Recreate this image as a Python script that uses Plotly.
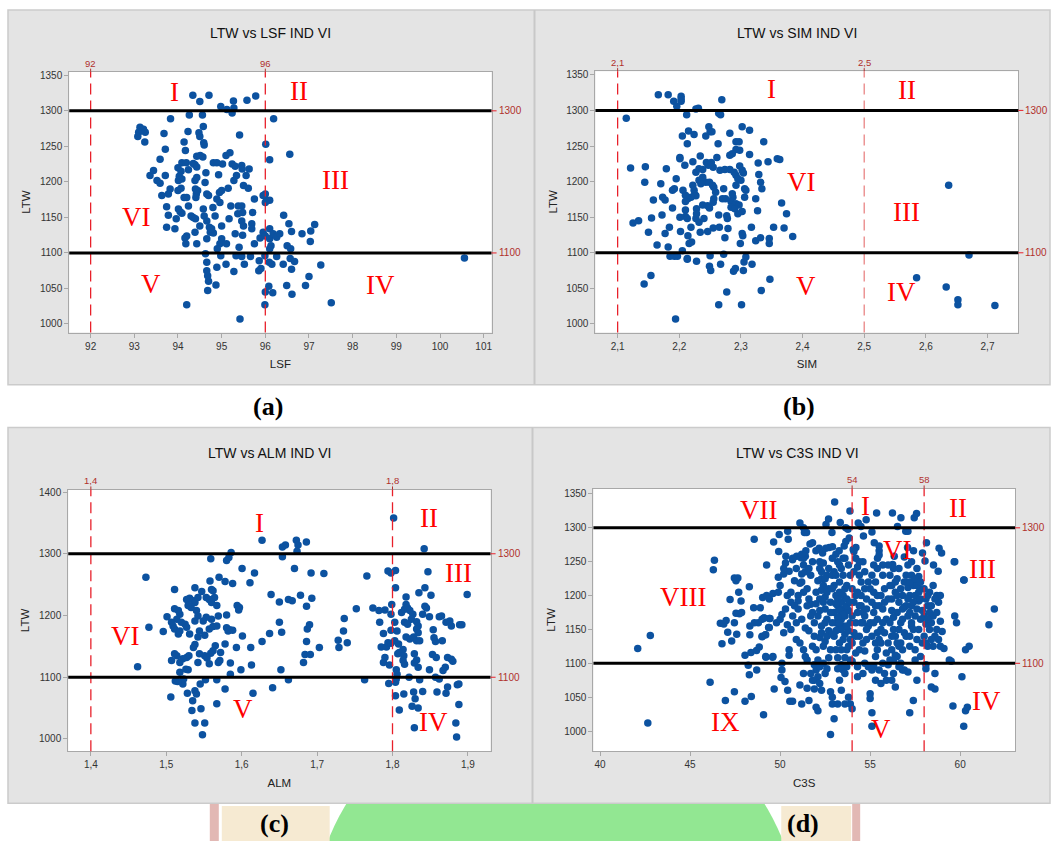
import plotly.graph_objects as go

# ---------------- Panel (a): LTW vs LSF ----------------
lsf = [94.34,94.71,94.50,95.27,95.58,95.78,94.98,95.12,95.24,95.28,94.26,94.56,93.83,96.19,93.13,93.21,93.10,93.25,93.08,93.24,
       93.68,94.23,94.48,94.50,94.58,94.59,94.60,94.14,95.41,96.01,96.56,96.10,94.17,93.71,93.59,94.09,94.19,94.43,94.51,94.57,
       94.35,94.39,94.43,94.81,94.89,95.02,95.10,95.19,95.24,95.31,95.46,95.47,95.63,95.56,95.34,95.28,94.93,94.64,94.24,94.00,
       94.07,94.03,93.71,93.36,93.44,93.52,93.59,94.01,94.09,94.39,94.43,94.62,93.82,93.78,93.63,94.00,94.07,94.14,94.20,94.24,
       94.40,94.42,94.41,94.45,94.66,94.70,94.95,95.00,94.89,94.96,95.15,95.50,95.61,95.75,96.00,96.03,96.10,95.21,95.38,95.46,
       95.48,95.37,95.71,93.74,93.78,94.01,94.05,94.09,93.96,93.74,93.93,94.30,94.35,94.40,94.58,94.60,94.66,94.80,94.85,94.50,
       94.39,94.20,94.16,94.18,94.43,94.66,94.74,94.81,94.72,94.77,95.00,95.17,95.46,95.50,95.69,95.69,95.31,95.48,95.00,94.96,
       94.90,95.11,95.40,95.75,95.88,95.95,96.00,96.10,96.10,96.18,96.26,96.33,96.13,96.10,96.42,96.54,96.60,96.84,97.04,97.13,
       97.03,96.50,96.58,96.57,96.67,96.60,97.27,97.00,96.92,96.49,96.61,96.17,96.00,96.08,95.99,97.51,100.56,95.42,94.20,94.68,
       94.87,94.70,94.68,94.66,94.66,94.63,94.89,94.98,95.10,95.28,95.33,95.46,95.52,95.66,95.86,95.85,95.90,95.99,96.09,96.15,
       96.26,96.41,95.95,96.00]
ltw_a = [1322,1322,1313,1314,1315,1321,1306,1302,1297,1304,1294,1294,1289,1289,1277,1274,1270,1270,1264,1256,
         1268,1271,1269,1264,1278,1255,1252,1256,1266,1253,1239,1231,1244,1246,1232,1227,1227,1236,1237,1235,
         1226,1224,1221,1227,1227,1225,1237,1241,1225,1222,1223,1218,1218,1209,1209,1202,1210,1213,1217,1220,
         1215,1208,1209,1209,1216,1202,1198,1202,1204,1202,1206,1199,1190,1183,1181,1188,1191,1178,1178,1166,
         1190,1183,1178,1188,1183,1181,1185,1188,1176,1171,1191,1195,1191,1176,1183,1174,1174,1166,1166,1166,
         1157,1155,1157,1165,1153,1162,1158,1156,1148,1136,1134,1152,1150,1148,1162,1152,1145,1164,1152,1138,
         1129,1124,1121,1113,1113,1120,1129,1128,1136,1134,1138,1148,1145,1138,1141,1134,1127,1125,1120,1113,
         1106,1113,1108,1113,1121,1129,1124,1134,1120,1127,1122,1127,1110,1106,1153,1141,1130,1127,1131,1140,
         1116,1110,1106,1092,1088,1077,1083,1067,1054,1054,1042,1044,1045,1053,1027,1030,1093,1007,1027,1047,
         1055,1060,1068,1075,1087,1099,1080,1096,1084,1074,1096,1095,1084,1095,1089,1075,1078,1096,1087,1084,
         1095,1084,1181,1171]

# ---------------- Panel (b): LTW vs SIM ----------------
sim = [2.166,2.182,2.191,2.196,2.203,2.203,2.203,2.269,2.114,2.212,2.227,2.231,2.264,2.267,2.248,2.250,2.243,2.253,2.215,2.205,
       2.224,2.213,2.263,2.282,2.302,2.314,2.337,2.292,2.297,2.292,2.298,2.286,2.282,2.261,2.234,2.222,2.201,2.201,2.209,2.244,
       2.247,2.252,2.255,2.266,2.274,2.282,2.289,2.292,2.298,2.302,2.304,2.314,2.328,2.344,2.359,2.363,2.329,2.332,2.334,2.324,
       2.306,2.308,2.306,2.300,2.295,2.292,2.286,2.287,2.284,2.292,2.297,2.272,2.275,2.270,2.259,2.256,2.243,2.249,2.254,2.238,
       2.232,2.235,2.227,2.232,2.238,2.222,2.224,2.225,2.227,2.219,2.214,2.210,2.206,2.210,2.189,2.192,2.195,2.179,2.170,2.144,
       2.145,2.121,2.158,2.173,2.177,2.172,2.155,2.134,2.125,2.150,2.177,2.184,2.164,2.182,2.189,2.201,2.202,2.210,2.210,2.213,
       2.214,2.219,2.220,2.216,2.227,2.228,2.228,2.232,2.234,2.238,2.246,2.249,2.256,2.255,2.240,2.246,2.264,2.255,2.265,2.274,
       2.279,2.277,2.278,2.284,2.290,2.295,2.302,2.299,2.302,2.303,2.317,2.324,2.332,2.327,2.346,2.346,2.353,2.370,2.384,2.366,
       2.374,2.205,2.185,2.192,2.197,2.213,2.213,2.228,2.250,2.249,2.251,2.267,2.272,2.288,2.291,2.304,2.308,2.305,2.318,2.347,
       2.333,2.277,2.264,2.301,2.194,2.154,2.143,2.585,2.633,2.637,2.670,2.652,2.652,2.712]
ltw_b = [1322,1322,1313,1306,1320,1316,1313,1315,1289,1294,1302,1303,1296,1294,1277,1270,1264,1270,1271,1264,
         1266,1253,1253,1268,1277,1272,1256,1256,1256,1245,1244,1239,1237,1234,1236,1228,1234,1232,1223,1227,
         1223,1227,1220,1216,1217,1217,1213,1209,1222,1216,1212,1238,1226,1228,1232,1231,1210,1199,1190,1176,
         1190,1188,1178,1202,1204,1195,1183,1178,1172,1169,1167,1190,1176,1176,1185,1192,1199,1199,1195,1206,
         1202,1197,1213,1218,1217,1195,1188,1182,1180,1178,1176,1181,1188,1172,1188,1190,1204,1218,1197,1199,
         1221,1219,1174,1178,1174,1153,1149,1145,1142,1129,1127,1136,1111,1108,1163,1150,1130,1160,1151,1148,
         1124,1136,1115,1113,1148,1162,1155,1143,1129,1167,1166,1163,1176,1171,1148,1130,1153,1135,1136,1121,
         1134,1152,1148,1164,1162,1155,1158,1113,1127,1124,1136,1117,1121,1159,1120,1113,1136,1135,1123,1170,
         1155,1103,1095,1095,1095,1092,1091,1088,1096,1081,1075,1084,1098,1074,1078,1075,1094,1087,1084,1063,
         1047,1045,1027,1027,1007,1068,1056,1065,1052,1195,1097,1034,1027,1026]

# ---------------- Panel (c): LTW vs ALM ----------------
alm = [1.8015,1.627,1.654,1.658,1.6725,1.6747,1.6858,1.6734,1.842,1.654,1.559,1.580,1.583,1.586,1.6005,1.617,1.611,1.578,1.588,1.570,
       1.558,1.473,1.670,1.692,1.709,1.766,1.794,1.798,1.804,1.847,1.804,1.843,1.835,1.851,1.818,1.899,1.511,1.538,1.547,1.560,
       1.562,1.564,1.527,1.531,1.536,1.542,1.538,1.533,1.529,1.553,1.557,1.560,1.567,1.639,1.650,1.662,1.667,1.678,1.693,1.686,
       1.594,1.597,1.596,1.580,1.569,1.560,1.553,1.549,1.540,1.542,1.538,1.518,1.516,1.511,1.514,1.501,1.520,1.525,1.527,1.507,
       1.509,1.511,1.496,1.477,1.516,1.518,1.531,1.542,1.544,1.551,1.557,1.562,1.567,1.580,1.582,1.584,1.588,1.601,1.578,1.565,
       1.562,1.559,1.572,1.551,1.554,1.544,1.538,1.536,1.530,1.527,1.514,1.511,1.507,1.522,1.518,1.542,1.557,1.569,1.571,1.593,
       1.612,1.627,1.637,1.650,1.653,1.686,1.687,1.690,1.703,1.684,1.691,1.682,1.728,1.729,1.735,1.740,1.736,1.752,1.774,1.790,
       1.782,1.799,1.798,1.783,1.788,1.803,1.806,1.798,1.785,1.792,1.794,1.798,1.803,1.790,1.788,1.796,1.807,1.808,1.809,1.814,
       1.815,1.814,1.816,1.812,1.816,1.818,1.820,1.823,1.827,1.825,1.832,1.834,1.832,1.834,1.816,1.820,1.818,1.823,1.828,1.832,
       1.836,1.840,1.843,1.845,1.849,1.854,1.855,1.857,1.853,1.858,1.862,1.865,1.871,1.876,1.878,1.866,1.873,1.878,1.880,1.870,
       1.867,1.829,1.832,1.829,1.834,1.849,1.857,1.862,1.836,1.822,1.805,1.806,1.805,1.804,1.795,1.804,1.815,1.809,1.828,1.840,
       1.826,1.830,1.834,1.829,1.859,1.871,1.873,1.886,1.888,1.888,1.884,1.885,1.889,1.892,1.763,1.662,1.652,1.641,1.615,1.613,
       1.599,1.585,1.585,1.567,1.578,1.567,1.552,1.545,1.546,1.551,1.548,1.538,1.534,1.535,1.538,1.540,1.528,1.522,1.523,1.512,
       1.515,1.518,1.526,1.529,1.506,1.462]
ltw_c = [1358,1322,1311,1314,1322,1314,1319,1304,1308,1295,1292,1289,1294,1302,1276,1269,1253,1255,1252,1262,
         1256,1262,1276,1269,1268,1264,1272,1269,1273,1271,1245,1245,1237,1233,1230,1234,1242,1245,1239,1242,
         1240,1229,1226,1228,1224,1229,1221,1213,1216,1229,1226,1221,1216,1234,1222,1226,1224,1233,1228,1215,
         1216,1213,1209,1201,1199,1194,1197,1191,1208,1199,1191,1202,1208,1211,1194,1198,1189,1186,1181,1189,
         1183,1178,1174,1181,1170,1175,1170,1165,1175,1168,1178,1182,1183,1180,1175,1177,1176,1167,1154,1151,
         1143,1139,1140,1135,1131,1138,1153,1148,1135,1132,1135,1138,1127,1130,1124,1124,1122,1124,1127,1148,
         1148,1158,1171,1189,1173,1158,1178,1185,1148,1137,1137,1124,1160,1148,1175,1156,1195,1211,1212,1209,
         1208,1218,1202,1189,1171,1189,1175,1176,1149,1149,1156,1155,1159,1132,1124,1120,1138,1154,1140,1145,
         1135,1127,1121,1205,1210,1218,1212,1208,1202,1194,1190,1183,1178,1172,1189,1186,1165,1162,1165,1159,
         1159,1202,1215,1212,1198,1177,1164,1158,1137,1132,1198,1199,1189,1191,1183,1159,1132,1129,1126,1116,
         1111,1138,1128,1123,1116,1112,1100,1097,1096,1100,1112,1105,1097,1092,1090,1070,1073,1047,1076,1077,
         1053,1065,1050,1018,1076,1074,1084,1088,1089,1056,1026,1003,1185,1185,1096,1096,1112,1083,1074,1120,
         1112,1105,1123,1096,1081,1057,1096,1089,1049,1026,1007,1026,1046,1062,1078,1073,1074,1089,1097,1094,
         1093,1108,1113,1112,1068,1117]

# ---------------- Panel (d): LTW vs C3S ----------------
c3s = [42.09,42.79,42.65,46.11,46.35,46.29,46.96,47.46,48.05,48.40,49.08,48.56,48.70,48.29,48.23,48.05,47.46,47.55,47.65,47.70,
       47.22,47.83,48.29,46.68,46.87,47.00,46.77,47.09,47.31,47.59,47.46,47.55,47.74,47.86,48.32,48.32,48.53,48.90,48.79,49.03,
       49.25,49.40,49.25,48.57,48.38,48.69,48.84,49.00,49.18,49.36,49.44,49.00,49.12,49.21,49.58,49.67,50.10,50.05,50.27,50.42,
       50.54,50.69,
       51.10,51.30,51.35,51.47,52.69,52.55,52.88,53.03,53.34,53.88,53.65,53.77,54.34,54.49,54.78,54.63,55.10,55.36,56.24,56.71,
       56.52,56.98,57.10,57.45,57.58,50.42,49.95,49.64,49.92,50.45,
       50.32,50.69,50.92,51.16,51.43,51.66,51.80,51.99,52.17,52.36,52.54,52.73,52.91,53.10,53.28,53.56,53.65,53.84,54.06,54.21,
       53.50,55.23,55.50,55.50,55.41,56.34,56.25,56.90,57.08,57.41,57.91,58.05,58.13,58.52,58.83,58.97,59.67,60.22,58.78,
       49.2,49.6,49.0,49.2,49.4,49.4,49.1,49.6,49.9,49.8,50.0,50.1,49.9,50.2,50.0,50.3,50.4,50.2,50.5,50.6,50.5,50.8,50.7,50.9,50.3,50.1,50.5,
       51.0,51.1,51.2,51.3,51.0,51.2,51.4,51.1,51.3,51.5,51.3,51.1,51.5,51.2,51.6,51.5,51.6,51.7,51.8,51.9,51.9,51.8,51.4,51.7,51.0,51.3,51.2,
       52.0,52.1,52.2,52.0,52.1,52.3,52.2,52.0,52.1,52.0,52.1,51.9,52.2,52.3,52.0,52.1,52.4,52.5,52.5,52.6,52.4,52.7,52.8,52.6,52.7,52.5,52.8,
       52.4,52.6,52.8,52.9,52.9,53.0,52.8,52.3,52.9,52.2,
       53.0,53.1,53.2,53.0,53.1,53.2,53.0,53.3,53.1,53.2,53.3,53.4,53.2,53.5,53.4,53.5,53.6,53.4,53.5,53.6,53.4,53.5,53.6,53.3,53.5,53.7,53.8,
       53.7,53.8,53.9,53.8,53.9,53.7,53.9,53.8,53.9,53.2,53.0,53.3,53.6,53.2,
       54.0,54.1,54.0,54.2,54.1,54.0,54.2,54.0,54.3,54.4,54.5,54.3,54.4,54.6,54.5,54.4,54.6,54.2,54.7,54.8,54.7,54.9,54.8,54.7,54.9,54.1,54.3,
       54.0,54.6,54.9,54.5,
       55.0,55.1,55.2,55.0,55.1,55.3,55.2,55.1,55.3,55.0,55.0,55.1,55.1,55.4,55.5,55.4,55.6,55.5,55.4,55.6,55.5,55.7,55.8,55.7,55.9,55.8,55.6,
       55.9,55.8,55.9,55.3,55.2,
       56.0,56.1,56.2,56.0,56.2,56.1,56.3,56.0,56.2,56.1,56.0,56.3,56.2,56.4,56.5,56.4,56.6,56.5,56.7,56.4,56.6,56.5,56.7,56.8,56.9,56.8,56.9,
       56.8,56.9,56.7,56.9,56.3,56.6,
       57.0,57.1,57.2,57.0,57.1,57.3,57.0,57.2,57.1,57.2,57.4,57.3,57.4,57.5,57.3,57.5,57.4,57.6,57.5,57.6,57.7,57.8,57.7,57.9,57.8,57.9,57.6,57.8,
       58.0,58.1,58.2,58.0,58.1,58.3,58.0,58.2,58.1,58.1,58.4,58.5,58.4,58.6,58.5,58.6,58.4,58.6,58.7,58.8,58.9,58.7,58.9,58.7,58.8,58.9,59.0,
       59.1,58.3,58.5,
       59.4,59.5,59.7,59.8,59.6,60.1,60.2,60.3,60.4,60.3,60.5,61.6,61.9,60.2,59.7,
       50.2,50.6,50.8,50.4,50.9,50.7,50.6,50.9,
       51.2,51.4,51.6,51.3,51.5,51.7,51.6,51.8,51.4,51.9,51.7,51.8,51.9,
       52.2,52.3,52.5,52.7,52.9,52.3,52.6,52.9,52.4,52.8,52.2,52.5,52.9,52.3,52.6,52.9,52.4,52.7,52.2,52.5,
       53.1,53.3,53.6,53.9,53.1,53.3,53.5,53.7,53.9,53.2,53.4,53.7,53.1,53.3,53.5,53.8,53.4,53.6,53.2,53.7,53.4,53.6,
       54.1,54.4,54.7,54.2,54.5,54.8,54.3,54.6,54.2,54.8,54.4,54.7,54.3,54.6,
       55.1,55.4,55.7,55.2,55.6,55.3,55.8,55.2,55.7,55.4,55.3,55.7,55.5,
       56.1,56.4,56.7,56.2,56.5,56.8,56.3,56.6,56.2,56.5,56.8,56.4,56.6,56.3,
       57.1,57.3,57.6,57.2,57.5,57.8,57.1,57.4,57.7,57.2,57.6,57.3,57.7,57.2,57.5,57.8,
       58.2,58.3,58.1,58.4,58.6,58.2]
ltw_d = [1122,1141,1012,1072,1252,1238,1045,1058,1044,1051,1024,1283,1090,1083,1097,1112,1226,1222,1226,1205,
         1194,1192,1213,1159,1158,1163,1129,1146,1133,1143,1160,1174,1173,1175,1155,1142,1182,1182,1160,1197,
         1200,1195,1245,1160,1116,1119,1124,1139,1142,1153,1166,1165,1167,1109,1109,1062,1090,1079,1073,1060,
         1044,1044,
         1307,1300,1293,1293,1313,1305,1293,1338,1308,1325,1300,1298,1307,1302,1312,1288,1294,1322,1322,1315,
         1302,1295,1295,1315,1321,1295,1290,1279,1265,1283,
         1258,1253,1258,1256,1266,1276,1278,1266,1270,1263,1270,1271,1272,1261,1266,1273,1280,1285,1268,1271,
         1255,1278,1273,1266,1255,1258,1246,1257,1271,1266,1263,1251,1278,1245,1270,1263,1250,1223,1236,
         1110,1110,1140,1142,1153,1166,1167,1203,1205,1160,1165,1172,1227,1232,1215,1180,1157,1145,1120,1190,1236,1222,1170,1160,1248,1100,1112,
         1200,1218,1232,1245,1180,1165,1152,1130,1120,1105,1085,1068,1063,1040,1045,1210,1195,1230,1175,1160,1140,1250,1258,1187,1192,1255,1261,
         1205,1222,1240,1188,1170,1155,1138,1120,1105,1090,1080,1075,1070,1060,1035,1030,1215,1198,1180,1230,1248,1210,1190,1165,1148,1132,1120,
         1100,1092,1058,1050,1040,1018,995,1225,1255,1195,
         1215,1200,1185,1175,1160,1150,1140,1130,1120,1108,1220,1240,1250,1200,1190,1180,1170,1165,1155,1143,1098,1090,1085,1075,1230,1215,1245,
         1195,1178,1160,1148,1135,1120,1105,1050,1040,1040,1235,1205,1210,1195,
         1210,1190,1170,1160,1145,1130,1115,1103,1095,1230,1220,1205,1185,1175,1160,1140,1130,1255,1210,1195,1170,1155,1135,1100,1095,1265,1242,
         1033,1250,1220,1185,
         1210,1190,1175,1160,1140,1130,1095,1090,1075,1055,1048,1027,1007,1200,1185,1165,1150,1135,1120,1070,1260,1230,1210,1180,1165,1145,1130,
         1115,1085,1075,1220,1245,
         1245,1230,1215,1195,1178,1160,1150,1130,1120,1105,1098,1085,1075,1065,1225,1205,1190,1175,1160,1140,1125,1110,1100,1090,1220,1200,1183,
         1165,1145,1130,1090,1240,1240,
         1230,1212,1200,1185,1170,1155,1140,1125,1087,1027,1045,1230,1215,1200,1185,1170,1150,1135,1120,1075,1228,1210,1192,1178,1165,1130,1215,1195,
         1210,1195,1185,1170,1158,1150,1140,1125,1098,1092,1185,1170,1160,1140,1125,1085,1065,1062,1200,1190,1200,1175,1162,1150,1135,1125,1147,
         1122,1205,1215,
         1105,1103,1170,1160,1037,1080,1007,1030,1035,1120,1125,1157,1180,1223,1250,
         1240,1205,1185,1200,1240,1255,1150,1135,
         1220,1235,1240,1205,1185,1170,1148,1125,1110,1098,1085,1075,1062,
         1250,1235,1225,1240,1230,1208,1205,1210,1190,1175,1178,1160,1160,1145,1140,1143,1125,1108,1095,1085,
         1230,1245,1255,1230,1188,1178,1172,1185,1190,1168,1150,1155,1148,1160,1135,1125,1120,1108,1092,1095,1060,1040,
         1235,1250,1235,1200,1200,1180,1175,1160,1140,1150,1120,1118,1080,1085,
         1230,1240,1245,1205,1200,1185,1190,1160,1160,1145,1110,1100,1090,
         1215,1220,1210,1195,1200,1180,1168,1150,1140,1130,1120,1112,1095,1105,
         1245,1250,1240,1220,1225,1220,1195,1190,1205,1175,1180,1160,1150,1140,1105,1110,
         1200,1175,1130,1135,1195,1165]

# ---------------- Axis definitions ----------------
titles = ["LTW vs LSF IND VI", "LTW vs SIM IND VI", "LTW vs ALM IND VI", "LTW vs C3S IND VI"]
x_titles = ["LSF", "SIM", "ALM", "C3S"]
panel_tags = ["(a)", "(b)", "(c)", "(d)"]

a_xticks = [92, 93, 94, 95, 96, 97, 98, 99, 100, 101]
b_xticks = [2.1, 2.2, 2.3, 2.4, 2.5, 2.6, 2.7]
b_xticktext = ["2,1", "2,2", "2,3", "2,4", "2,5", "2,6", "2,7"]
c_xticks = [1.4, 1.5, 1.6, 1.7, 1.8, 1.9]
c_xticktext = ["1,4", "1,5", "1,6", "1,7", "1,8", "1,9"]
d_xticks = [40, 45, 50, 55, 60]
y_ticks_50 = [1000, 1050, 1100, 1150, 1200, 1250, 1300, 1350]
y_ticks_100 = [1000, 1100, 1200, 1300, 1400]

h_refs = [1300, 1100]
v_refs = {"a": [92, 96], "b": [2.1, 2.5], "c": [1.4, 1.8], "d": [54, 58]}
v_ref_text = {"a": ["92", "96"], "b": ["2,1", "2,5"], "c": ["1,4", "1,8"], "d": ["54", "58"]}

regions = {
    "a": [("I", 93.93, 1326), ("II", 96.77, 1328), ("III", 97.6, 1202), ("VI", 93.04, 1150), ("V", 93.38, 1056), ("IV", 98.64, 1055)],
    "b": [("I", 2.35, 1330), ("II", 2.569, 1328), ("VI", 2.399, 1199), ("III", 2.569, 1157), ("V", 2.406, 1053), ("IV", 2.56, 1045)],
    "c": [("I", 1.624, 1350), ("II", 1.848, 1358), ("III", 1.888, 1269), ("VI", 1.446, 1167), ("V", 1.602, 1049), ("IV", 1.855, 1027)],
    "d": [("VII", 48.79, 1327), ("I", 54.73, 1332), ("II", 59.89, 1329), ("VI", 56.52, 1268), ("III", 61.24, 1239),
          ("VIII", 44.63, 1198), ("IX", 46.94, 1013), ("V", 55.6, 1003), ("IV", 61.48, 1045)],
}

W, H = 1055, 841
def px(x): return x / W
def py(y): return 1 - y / H

MARK = "#0c52a0"
REFRED = "#b0302c"

fig = go.Figure()
data = [(lsf, ltw_a), (sim, ltw_b), (alm, ltw_c), (c3s, ltw_d)]
for i, (xs, ys) in enumerate(data):
    suf = "" if i == 0 else str(i + 1)
    fig.add_trace(go.Scatter(x=xs, y=ys, mode="markers", xaxis="x" + suf, yaxis="y" + suf,
                             marker=dict(color=MARK, size=7.5, line=dict(width=0)), showlegend=False,
                             hoverinfo="skip"))

frames = {
    "a": dict(x=(69.3, 492.0), y=(69.0, 330.7), xr=[91.51, 101.18], yr=[988, 1355]),
    "b": dict(x=(596.0, 1019.3), y=(68.5, 330.7), xr=[2.064, 2.75], yr=[988, 1355]),
    "c": dict(x=(68.3, 491.0), y=(488.3, 751.0), xr=[1.37, 1.93], yr=[980, 1404]),
    "d": dict(x=(594.0, 1016.0), y=(487.3, 751.0), xr=[39.63, 63.05], yr=[970, 1358]),
}
keys = ["a", "b", "c", "d"]
tickfont = dict(family="Liberation Sans, Arial, sans-serif", size=10, color="#333333")
axfont = dict(family="Liberation Sans, Arial, sans-serif", size=11.5, color="#222222")
xtick_specs = [
    dict(tickvals=a_xticks, ticktext=[str(v) for v in a_xticks]),
    dict(tickvals=b_xticks, ticktext=b_xticktext),
    dict(tickvals=c_xticks, ticktext=c_xticktext),
    dict(tickvals=d_xticks, ticktext=[str(v) for v in d_xticks]),
]
ytick_specs = [y_ticks_50, y_ticks_50, y_ticks_100, y_ticks_50]

layout = {}
for i, k in enumerate(keys):
    f = frames[k]
    suf = "" if i == 0 else str(i + 1)
    common = dict(showgrid=False, zeroline=False, showline=True, mirror=True, linecolor="#a8a8a8", linewidth=1,
                  ticks="outside", ticklen=4, tickcolor="#a8a8a8", tickfont=tickfont, fixedrange=True)
    layout["xaxis" + suf] = dict(domain=[px(f["x"][0]), px(f["x"][1])], range=f["xr"], anchor="y" + suf,
                                 tickmode="array", title=dict(text=x_titles[i], font=axfont, standoff=9),
                                 **xtick_specs[i], **common)
    layout["yaxis" + suf] = dict(domain=[py(f["y"][1]), py(f["y"][0])], range=f["yr"], anchor="x" + suf,
                                 tickmode="array", tickvals=ytick_specs[i],
                                 title=dict(text="LTW", font=axfont, standoff=6), **common)

shapes = []
shapes.append(dict(type="circle", xref="paper", yref="paper", x0=px(556 - 245), x1=px(556 + 245),
                   y0=py(931 + 245), y1=py(931 - 245), fillcolor="#92e792", line=dict(width=0), layer="below"))
for x0, x1 in [(210, 219), (853, 861)]:
    shapes.append(dict(type="rect", xref="paper", yref="paper", x0=px(x0), x1=px(x1), y0=py(841), y1=py(803),
                       fillcolor="#e2b8b4", line=dict(width=0), layer="below"))
for x0, x1 in [(222, 330), (782, 852)]:
    shapes.append(dict(type="rect", xref="paper", yref="paper", x0=px(x0), x1=px(x1), y0=py(841), y1=py(806),
                       fillcolor="#f6ead2", line=dict(width=0), layer="below"))
for (y0, y1, xd) in [(7, 383, 535), (426, 803, 533)]:
    shapes.append(dict(type="rect", xref="paper", yref="paper", x0=px(8), x1=px(1051), y0=py(y1), y1=py(y0),
                       fillcolor="#e4e4e4", line=dict(color="#cbcbcb", width=1.5), layer="below"))
    shapes.append(dict(type="line", xref="paper", yref="paper", x0=px(xd), x1=px(xd), y0=py(y1), y1=py(y0),
                       line=dict(color="#c8c8c8", width=2), layer="below"))

annotations = []
for i, k in enumerate(keys):
    suf = "" if i == 0 else str(i + 1)
    xr, yr = "x" + suf, "y" + suf
    shapes.append(dict(type="rect", xref=xr + " domain", yref=yr + " domain", x0=0, x1=1, y0=0, y1=1,
                       fillcolor="white", line=dict(width=0), layer="below"))
    for j, v in enumerate(v_refs[k]):
        col = "#e8202a" if not (k == "b" and j == 1) else "#e98585"
        shapes.append(dict(type="line", xref=xr, yref=yr + " domain", x0=v, x1=v, y0=0, y1=1.0,
                           line=dict(color=col, width=1.3, dash="11px,6px"), layer="above"))
        shapes.append(dict(type="line", xref=xr, yref=yr + " domain", x0=v, x1=v, y0=1.0, y1=1.012,
                           line=dict(color=REFRED, width=1), layer="above"))
        annotations.append(dict(text=v_ref_text[k][j], x=v, y=1.012, xref=xr, yref=yr + " domain",
                                showarrow=False, yanchor="bottom", xanchor="center", yshift=-2,
                                font=dict(family="Liberation Sans, Arial, sans-serif", size=9.5, color=REFRED)))
    for v in h_refs:
        shapes.append(dict(type="line", xref=xr + " domain", yref=yr, x0=0, x1=1, y0=v, y1=v,
                           line=dict(color="black", width=3), layer="above"))
        shapes.append(dict(type="line", xref=xr + " domain", yref=yr, x0=1, x1=1.012, y0=v, y1=v,
                           line=dict(color="#e8202a", width=1), layer="above"))
        annotations.append(dict(text=str(v), x=1.012, y=v, xref=xr + " domain", yref=yr,
                                showarrow=False, xanchor="left", yanchor="middle",
                                font=dict(family="Liberation Sans, Arial, sans-serif", size=10, color=REFRED)))
    for (t, rx, ry) in regions[k]:
        annotations.append(dict(text=t, x=rx, y=ry, xref=xr, yref=yr, showarrow=False,
                                xanchor="center", yanchor="middle",
                                font=dict(family="Liberation Serif, Times New Roman, serif", size=27, color="#ff0000")))

title_pos = [(271, 30), (798, 30), (270, 452), (798, 452)]
tag_pos = [(268, 405), (800, 405), (275, 823), (804, 823)]
for i in range(4):
    tx, ty = title_pos[i]
    annotations.append(dict(text=titles[i], x=px(tx), y=py(ty), xref="paper", yref="paper", showarrow=False,
                            xanchor="center", yanchor="middle",
                            font=dict(family="Liberation Sans Narrow, Arial Narrow, Liberation Sans, sans-serif",
                                      size=14, color="#111111")))
    gx, gy = tag_pos[i]
    annotations.append(dict(text="<b>" + panel_tags[i] + "</b>", x=px(gx), y=py(gy), xref="paper", yref="paper",
                            showarrow=False, xanchor="center", yanchor="middle",
                            font=dict(family="Liberation Serif, Times New Roman, serif", size=26, color="black")))

fig.update_layout(width=W, height=H, margin=dict(l=0, r=0, t=0, b=0), autosize=False,
                  paper_bgcolor="white", plot_bgcolor="white", showlegend=False,
                  shapes=shapes, annotations=annotations, **layout)

fig.write_html("out.html", config={"displayModeBar": False},
               post_script="document.body.style.margin='0';document.body.style.overflow='hidden';")
